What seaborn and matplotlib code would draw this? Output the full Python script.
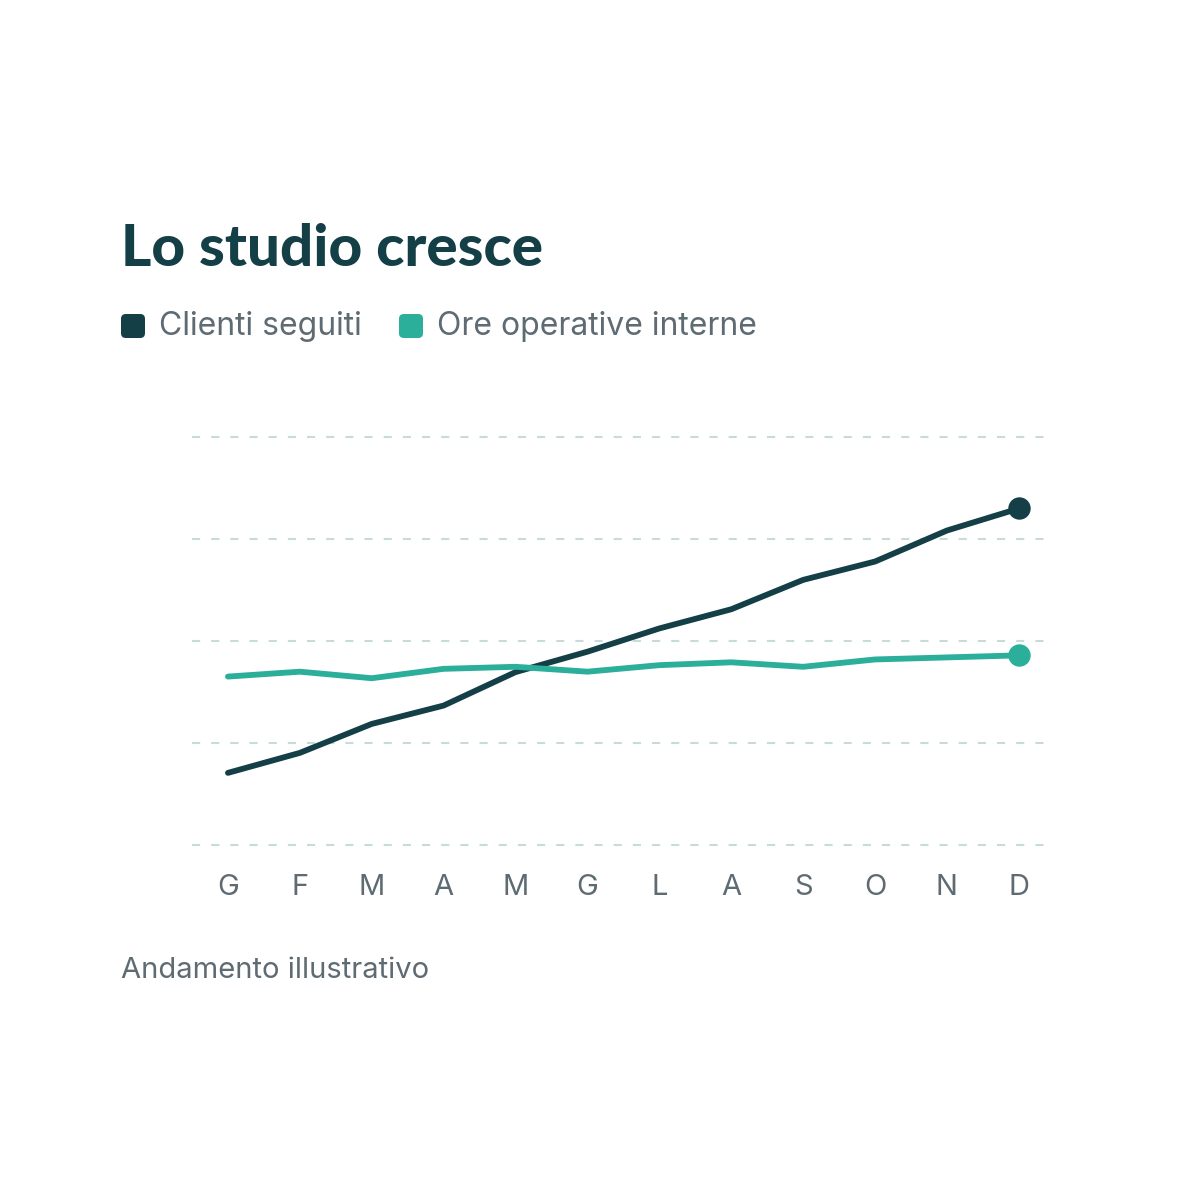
import matplotlib
matplotlib.use("Agg")
import matplotlib.pyplot as plt
from matplotlib.patches import FancyBboxPatch
import seaborn as sns
import numpy as np
import pandas as pd

# mesi (iniziali) e valori
mesi = ["G", "F", "M", "A", "M", "G", "L", "A", "S", "O", "N", "D"]
clienti = [17.6, 22.5, 29.6, 34.1, 42.3, 47.3, 53.0, 57.7, 64.9, 69.4, 77.0, 82.4]
ore = [41.2, 42.4, 40.8, 43.1, 43.6, 42.4, 44.0, 44.7, 43.6, 45.4, 45.9, 46.4]
griglia = [0, 25, 50, 75, 100]
serie = ["Clienti seguiti", "Ore operative interne"]

scuro = "#143f47"
verde = "#2bae9a"
grigio = "#5f6b73"

sns.set_theme(style="white")
plt.rcParams["font.family"] = ["Inter", "DejaVu Sans"]

idx = np.arange(len(mesi))
df = pd.DataFrame({"mese": np.concatenate([idx, idx]),
                   "valore": clienti + ore,
                   "serie": [serie[0]] * len(mesi) + [serie[1]] * len(mesi)})

fig = plt.figure(figsize=(12, 12), dpi=100)
ax = fig.add_axes([0.16, 0.2859, 0.71, 0.3604])

for g in griglia:
    ax.axhline(g, color="#c8dcd7", lw=1.5, dashes=(3.9, 5.3), zorder=0)

sns.lineplot(data=df, x="mese", y="valore", hue="serie", palette=[scuro, verde],
             linewidth=4.2, legend=False, ax=ax, zorder=3,
             solid_capstyle="round", solid_joinstyle="round")
ax.scatter([idx[-1]], [clienti[-1]], s=260, color=scuro, zorder=4, linewidths=0)
ax.scatter([idx[-1]], [ore[-1]], s=260, color=verde, zorder=4, linewidths=0)

ax.set_xlim(-0.5, 11.35)
ax.set_ylim(-3, 103)
ax.set_xticks(idx)
ax.set_xticklabels(mesi)
ax.set_yticks([])
ax.tick_params(axis="x", length=0, pad=12.3, labelsize=21, labelcolor=grigio)
ax.set_xlabel("")
ax.set_ylabel("")
for s in ax.spines.values():
    s.set_visible(False)

fig.text(121 / 1200, 1 - 266 / 1200, "Lo studio cresce", fontsize=42, fontweight="black",
         color=scuro, family=["Lato", "DejaVu Sans"], va="baseline")

# legenda
for xq, xt, col, lab in [(121, 159, scuro, serie[0]), (399, 437, verde, serie[1])]:
    fig.patches.append(FancyBboxPatch((xq / 1200, 1 - 338 / 1200), 24 / 1200, 24 / 1200,
                                      boxstyle="round,pad=0,rounding_size=0.004",
                                      transform=fig.transFigure, color=col, lw=0))
    fig.text(xt / 1200, 1 - 326 / 1200, lab, fontsize=23, color=grigio, va="center")

fig.text(121 / 1200, 1 - 970 / 1200, "Andamento illustrativo", fontsize=21,
         color=grigio, va="center")

fig.savefig("out.png", dpi=100, facecolor="white")
